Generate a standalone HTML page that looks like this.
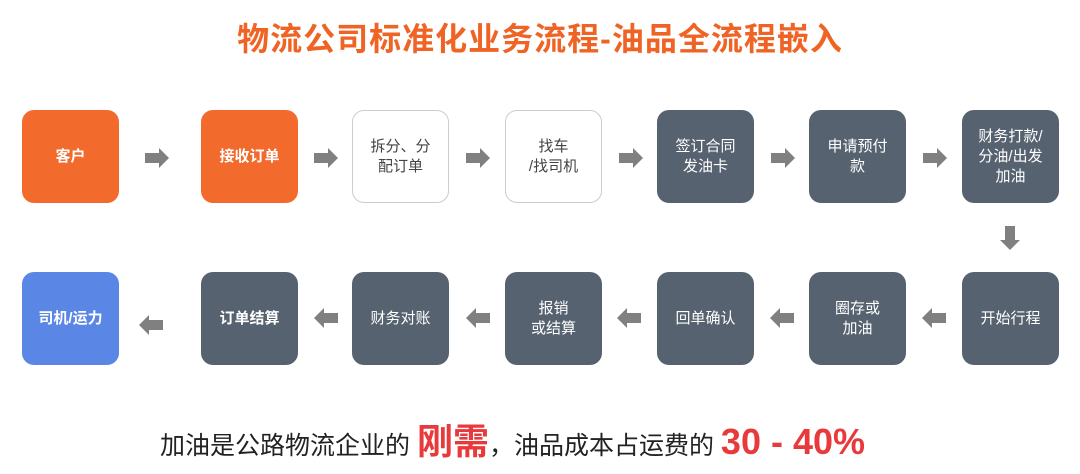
<!DOCTYPE html>
<html><head><meta charset="utf-8"><style>
body{margin:0;width:1080px;height:474px;background:#fff;position:relative;overflow:hidden;font-family:"Liberation Sans","Noto Sans CJK SC",sans-serif}
.t{position:absolute;top:14px;left:0;width:1080px;text-align:center;font-size:32px;font-weight:bold;color:#ef6424;letter-spacing:1px}
.b{position:absolute;width:97px;height:93px;border-radius:12px;display:flex;align-items:center;justify-content:center;text-align:center;font-size:15px;line-height:20px;color:#fff}
.o{background:#f26a2c;font-weight:bold}
.w{background:#fff;border:1px solid #ccc;color:#444;box-sizing:border-box}
.d{background:#56626f}
.bl{background:#5a86e6;font-weight:bold}
.bot{position:absolute;top:420px;left:160px;font-size:25px;color:#222;white-space:nowrap;line-height:44px}
.bot b{color:#e8393c;font-size:36px}
</style></head><body>
<div class="t">物流公司标准化业务流程-油品全流程嵌入</div>
<div class="b o" style="left:22px;top:110px">客户</div>
<div class="b o" style="left:201px;top:110px">接收订单</div>
<div class="b w" style="left:352px;top:110px">拆分、分<br>配订单</div>
<div class="b w" style="left:505px;top:110px">找车<br>/找司机</div>
<div class="b d" style="left:657px;top:110px">签订合同<br>发油卡</div>
<div class="b d" style="left:809px;top:110px">申请预付<br>款</div>
<div class="b d" style="left:962px;top:110px">财务打款/<br>分油/出发<br>加油</div>
<div class="b bl" style="left:22px;top:272px">司机/运力</div>
<div class="b d" style="left:201px;top:272px;font-weight:bold">订单结算</div>
<div class="b d" style="left:352px;top:272px">财务对账</div>
<div class="b d" style="left:505px;top:272px">报销<br>或结算</div>
<div class="b d" style="left:657px;top:272px">回单确认</div>
<div class="b d" style="left:809px;top:272px">圈存或<br>加油</div>
<div class="b d" style="left:962px;top:272px">开始行程</div>
<svg width="1080" height="474" style="position:absolute;left:0;top:0">
<g fill="#808080">
<path id="r" d="M0,-5 H14 V-10 L24,0 L14,10 V5 H0Z" transform="translate(145,158)"/>
<use href="#r" x="169"/><use href="#r" x="321"/><use href="#r" x="474"/><use href="#r" x="626"/><use href="#r" x="778"/>
<path d="M0,-5 H14 V-10 L24,0 L14,10 V5 H0Z" transform="translate(946,318) rotate(180)" />
<path d="M0,-5 H14 V-10 L24,0 L14,10 V5 H0Z" transform="translate(794,318) rotate(180)" />
<path d="M0,-5 H14 V-10 L24,0 L14,10 V5 H0Z" transform="translate(641,318) rotate(180)" />
<path d="M0,-5 H14 V-10 L24,0 L14,10 V5 H0Z" transform="translate(490,318) rotate(180)" />
<path d="M0,-5 H14 V-10 L24,0 L14,10 V5 H0Z" transform="translate(338,318) rotate(180)" />
<path d="M0,-5 H14 V-10 L24,0 L14,10 V5 H0Z" transform="translate(163,325) rotate(180)" />
<path d="M0,-5 H14 V-10 L24,0 L14,10 V5 H0Z" transform="translate(1010,226) rotate(90)" />
</g>
</svg>
<div class="bot">加油是公路物流企业的 <b>刚需</b>，油品成本占运费的 <b>30 - 40%</b></div>
</body></html>
